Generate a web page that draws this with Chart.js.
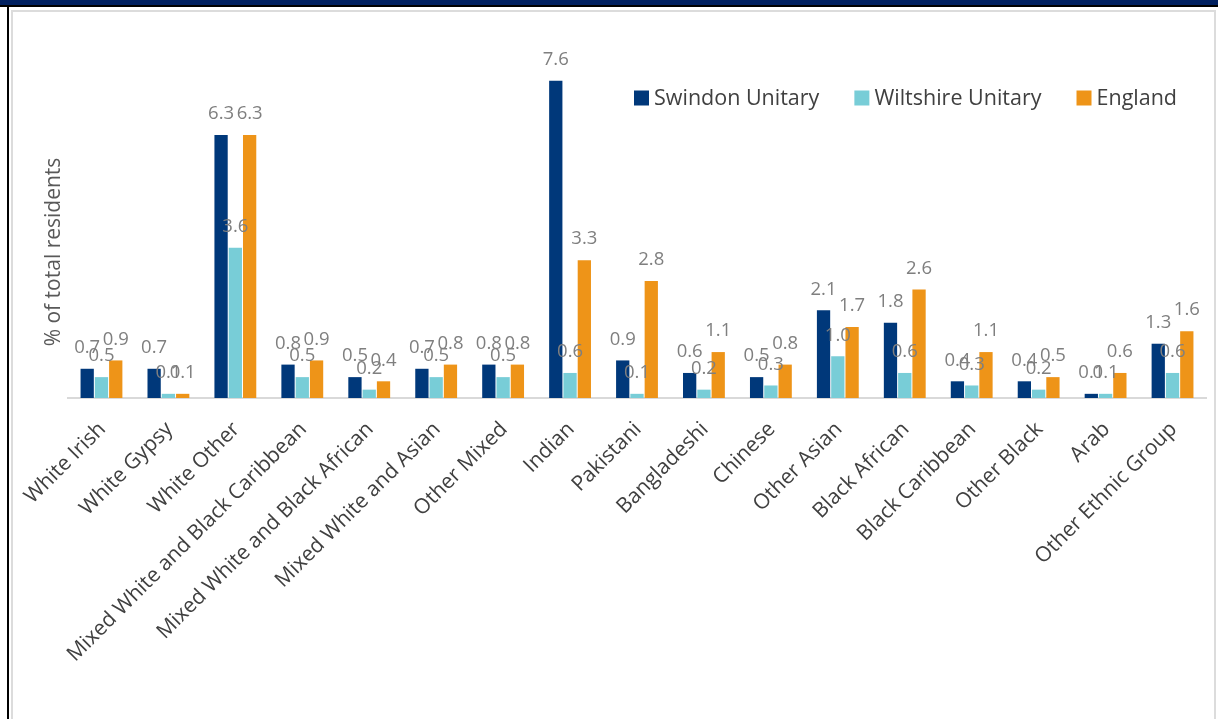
<!DOCTYPE html>
<html>
<head>
<meta charset="utf-8">
<script src="https://cdn.jsdelivr.net/npm/chart.js@4.4.1/dist/chart.umd.min.js"></script>
<style>
  html, body { margin: 0; padding: 0; background: #fff; }
  body { width: 1218px; height: 719px; position: relative; overflow: hidden; }
  .header { position: absolute; left: 0; top: 0; width: 1218px; height: 5px; background: #002060; border-bottom: 2px solid #000; }
  .edge { position: absolute; left: 7px; top: 7px; width: 2px; height: 712px; background: #000; }
  .frame { position: absolute; left: 11px; top: 10px; width: 1201px; height: 720px; border: 2px solid #dcdcdc; }
  #chart-ethnic { position: absolute; left: 0; top: 0; }
</style>
</head>
<body>
<div class="header"></div>
<div class="edge"></div>
<div class="frame"></div>
<canvas id="chart-ethnic" width="1218" height="719"></canvas>
<script>
// ===== Ethnic group comparison - % of total residents =====

const categories = [
  'White Irish', 'White Gypsy', 'White Other', 'Mixed White and Black Caribbean',
  'Mixed White and Black African', 'Mixed White and Asian', 'Other Mixed', 'Indian',
  'Pakistani', 'Bangladeshi', 'Chinese', 'Other Asian', 'Black African',
  'Black Caribbean', 'Other Black', 'Arab', 'Other Ethnic Group'
];
const swindon   = [0.7, 0.7, 6.3, 0.8, 0.5, 0.7, 0.8, 7.6, 0.9, 0.6, 0.5, 2.1, 1.8, 0.4, 0.4, 0.1, 1.3];
const wiltshire = [0.5, 0.1, 3.6, 0.5, 0.2, 0.5, 0.5, 0.6, 0.1, 0.2, 0.3, 1.0, 0.6, 0.3, 0.2, 0.1, 0.6];
const england   = [0.9, 0.1, 6.3, 0.9, 0.4, 0.8, 0.8, 3.3, 2.8, 1.1, 0.8, 1.7, 2.6, 1.1, 0.5, 0.6, 1.6];
const seriesNames = ['Swindon Unitary', 'Wiltshire Unitary', 'England'];
const seriesColors = ['#00387a', '#78cdd7', '#ee9418'];
const axisTitle = '% of total residents';

const FONT = '"Open Sans", sans-serif';

// value labels above every bar
const valueLabels = {
  id: 'valueLabels',
  afterDatasetsDraw(chart) {
    const { ctx } = chart;
    ctx.save();
    ctx.font = '18.5px ' + FONT;
    ctx.fillStyle = '#7f7f7f';
    ctx.textAlign = 'center';
    ctx.textBaseline = 'middle';
    chart.data.datasets.forEach((ds, i) => {
      chart.getDatasetMeta(i).data.forEach((bar, j) => {
        ctx.fillText(ds.data[j].toFixed(1), bar.x, bar.y - 21);
      });
    });
    ctx.restore();
  }
};

// legend in the top right + rotated axis title
const sideText = {
  id: 'sideText',
  afterDraw(chart) {
    const { ctx } = chart;
    ctx.save();
    ctx.font = '21.5px ' + FONT;
    ctx.textBaseline = 'middle';
    let x = 634;
    const y = 98;
    chart.data.datasets.forEach((ds) => {
      ctx.fillStyle = ds.backgroundColor;
      ctx.fillRect(x, y - 7.5, 15, 15);
      ctx.fillStyle = '#404040';
      ctx.textAlign = 'left';
      ctx.fillText(ds.label, x + 20, y + 1);
      x += 20 + ctx.measureText(ds.label).width + 35;
    });

    ctx.font = '21px ' + FONT;
    ctx.translate(54, 252);
    ctx.rotate(-Math.PI / 2);
    ctx.textAlign = 'center';
    ctx.fillStyle = '#595959';
    ctx.fillText(axisTitle, 0, 0);
    ctx.restore();
  }
};

const datasets = [swindon, wiltshire, england].map((values, i) => ({
  label: seriesNames[i],
  data: values,
  backgroundColor: seriesColors[i],
  borderWidth: 0,
  categoryPercentage: 0.64,
  barPercentage: 0.93
}));

new Chart(document.getElementById('chart-ethnic'), {
  type: 'bar',
  data: { labels: categories, datasets },
  options: {
    responsive: false,
    animation: false,
    layout: { padding: { left: 68, right: 12, top: 64, bottom: 1 } },
    scales: {
      x: {
        grid: { display: false, drawTicks: false },
        border: { color: '#d9d9d9', width: 2 },
        ticks: {
          minRotation: 45,
          maxRotation: 45,
          padding: 19,
          labelOffset: 1,
          color: '#404040',
          font: { family: FONT, size: 21 }
        },
        afterFit(scale) { scale.height = 320; }
      },
      y: {
        display: false,
        min: 0,
        max: 8
      }
    },
    plugins: {
      legend: { display: false },
      tooltip: { enabled: false }
    }
  },
  plugins: [valueLabels, sideText]
});
</script>
</body>
</html>
